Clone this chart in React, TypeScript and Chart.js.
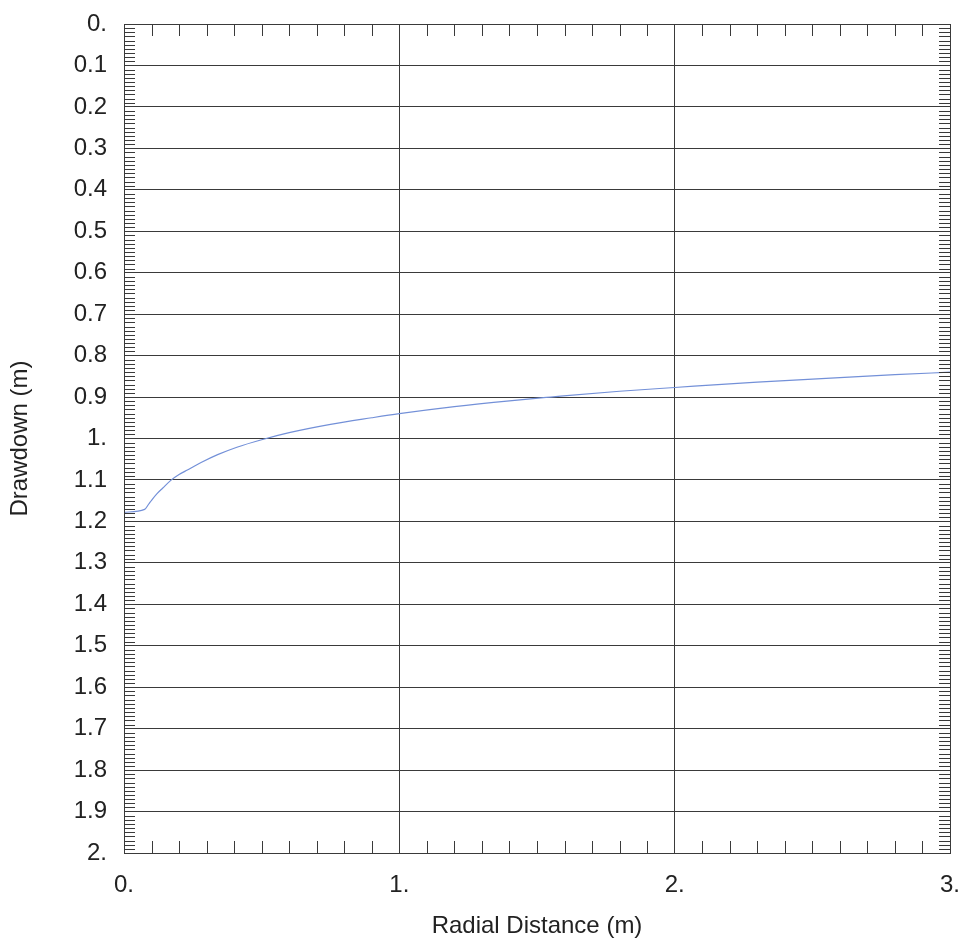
import React, { useEffect, useRef } from "react";
import { Chart, registerables } from "chart.js";

Chart.register(...registerables);

const radialDistance = [0, 0.075, 0.09, 0.1, 0.12, 0.14, 0.17, 0.2, 0.23, 0.28, 0.34, 0.41, 0.5, 0.6, 0.75, 0.9, 1.0, 1.2, 1.4, 1.55, 1.8, 2.0, 2.3, 2.55, 2.8, 3.0];
const drawdown = [1.178, 1.171, 1.158, 1.149, 1.133, 1.12, 1.101, 1.087, 1.076, 1.058, 1.039, 1.021, 1.003, 0.986, 0.966, 0.95, 0.94, 0.923, 0.909, 0.9, 0.886, 0.877, 0.864, 0.855, 0.846, 0.84];

const xMin = 0;
const xMax = 3;
const xMajorStep = 1;
const xMinorStep = 0.1;
const yMin = 0;
const yMax = 2;
const yMajorStep = 0.1;
const yMinorStep = 0.01;

const xTitle = "Radial Distance (m)";
const yTitle = "Drawdown (m)";

const FONT = "'Liberation Sans', Arial, Helvetica, sans-serif";
const GRID = "#3a3a3a";
const TEXT = "#222222";

function fmt(v: number): string {
  const r = Math.round(v * 10) / 10;
  if (Math.abs(r - Math.round(r)) < 1e-9) return Math.round(r) + ".";
  return r.toFixed(1);
}

const framePlugin = {
  id: "frameAndMinorTicks",
  afterDatasetsDraw(chart: any) {
    const { ctx, chartArea } = chart;
    const xs = chart.scales.x;
    const ys = chart.scales.y;
    const { left, right, top, bottom } = chartArea;
    ctx.save();
    ctx.strokeStyle = GRID;
    ctx.lineWidth = 1;
    ctx.beginPath();
    const nx = Math.round((xMax - xMin) / xMinorStep);
    for (let i = 1; i < nx; i++) {
      const v = xMin + i * xMinorStep;
      if (Math.abs(v / xMajorStep - Math.round(v / xMajorStep)) < 1e-6) continue;
      const px = Math.round(xs.getPixelForValue(v)) + 0.5;
      ctx.moveTo(px, top);
      ctx.lineTo(px, top + 12);
      ctx.moveTo(px, bottom);
      ctx.lineTo(px, bottom - 12);
    }
    const ny = Math.round((yMax - yMin) / yMinorStep);
    for (let i = 1; i < ny; i++) {
      const v = yMin + i * yMinorStep;
      if (Math.abs(v / yMajorStep - Math.round(v / yMajorStep)) < 1e-6) continue;
      const py = Math.round(ys.getPixelForValue(v)) + 0.5;
      ctx.moveTo(left, py);
      ctx.lineTo(left + 11, py);
      ctx.moveTo(right, py);
      ctx.lineTo(right - 11, py);
    }
    ctx.stroke();
    ctx.strokeRect(Math.round(left) + 0.5, Math.round(top) + 0.5, Math.round(right - left), Math.round(bottom - top));
    ctx.restore();
  },
};

export default function App() {
  const ref = useRef<HTMLCanvasElement | null>(null);

  useEffect(() => {
    if (!ref.current) return;
    const chart = new Chart(ref.current, {
      type: "line",
      data: {
        datasets: [
          {
            data: radialDistance.map((x, i) => ({ x, y: drawdown[i] })),
            borderColor: "#7390d8",
            borderWidth: 1.2,
            pointRadius: 0,
            cubicInterpolationMode: "monotone",
            fill: false,
          },
        ],
      },
      options: {
        animation: false,
        responsive: false,
        layout: { padding: { top: 24, right: 11, left: 0, bottom: 0 } },
        plugins: { legend: { display: false }, tooltip: { enabled: false } },
        scales: {
          x: {
            type: "linear",
            min: xMin,
            max: xMax,
            afterFit: (s: any) => {
              s.height = 91;
              s.paddingLeft = 0;
              s.paddingRight = 0;
            },
            ticks: {
              stepSize: xMajorStep,
              callback: (v: any) => fmt(Number(v)),
              font: { family: FONT, size: 24 },
              color: TEXT,
              padding: 18,
              maxRotation: 0,
            },
            grid: { color: GRID, lineWidth: 1, drawTicks: false },
            border: { display: false },
            title: {
              display: true,
              text: xTitle,
              font: { family: FONT, size: 24 },
              color: TEXT,
              padding: { top: 0, bottom: 3 },
            },
          },
          y: {
            type: "linear",
            reverse: true,
            min: yMin,
            max: yMax,
            afterFit: (s: any) => {
              s.width = 124;
              s.paddingTop = 0;
              s.paddingBottom = 0;
            },
            ticks: {
              stepSize: yMajorStep,
              callback: (v: any) => fmt(Number(v)),
              font: { family: FONT, size: 24 },
              color: TEXT,
              padding: 17,
              autoSkip: false,
            },
            grid: { color: GRID, lineWidth: 1, drawTicks: false },
            border: { display: false },
            title: {
              display: true,
              text: yTitle,
              font: { family: FONT, size: 24 },
              color: TEXT,
              padding: { top: 6, bottom: 0 },
            },
          },
        },
      },
      plugins: [framePlugin],
    });
    return () => chart.destroy();
  }, []);

  return (
    <div style={{ position: "fixed", left: 0, top: 0, width: 961, height: 944, background: "#ffffff" }}>
      <canvas ref={ref} width={961} height={944} style={{ display: "block" }} />
    </div>
  );
}
